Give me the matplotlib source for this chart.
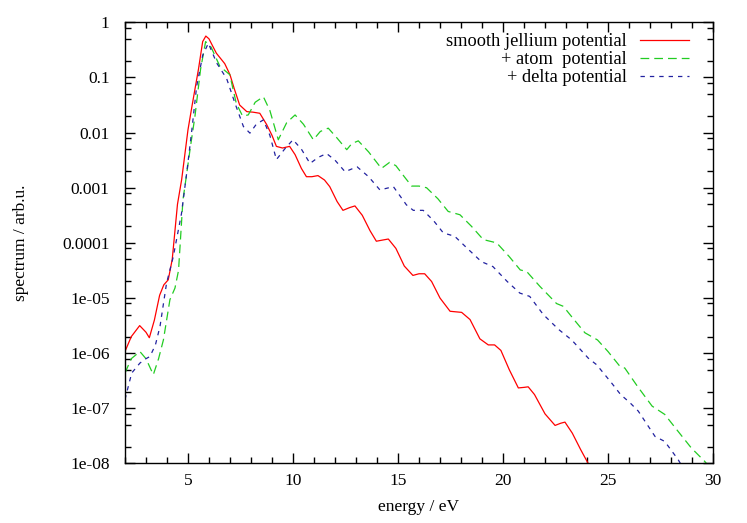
import matplotlib
matplotlib.use("Agg")
import matplotlib.pyplot as plt
import numpy as np
from matplotlib.ticker import FixedLocator, LogLocator, MultipleLocator, NullFormatter

# energy (eV) and log10(spectrum)
jellium_e = [2.0, 2.3, 2.7, 3.0, 3.16, 3.4, 3.65, 3.85, 4.06, 4.25, 4.5, 4.7, 5.0, 5.2, 5.5,
             5.7, 5.85, 6.0, 6.35, 6.75, 7.0, 7.2, 7.46, 7.8, 8.1, 8.42, 8.74, 9.0, 9.21, 9.5,
             9.84, 10.1, 10.4, 10.64, 10.9, 11.19, 11.5, 11.75, 12.1, 12.38, 12.7, 12.95, 13.3,
             13.67, 13.97, 14.25, 14.54, 14.9, 15.3, 15.71, 16.0, 16.27, 16.6, 17.0, 17.48,
             17.75, 18.03, 18.43, 18.9, 19.3, 19.6, 19.9, 20.3, 20.73, 21.0, 21.2, 21.5, 22.0,
             22.48, 22.75, 22.95, 23.3, 23.7, 24.0, 24.2]
jellium_log = [-5.97, -5.7, -5.5, -5.62, -5.72, -5.4, -4.95, -4.76, -4.67, -4.3, -3.3, -2.85,
               -1.95, -1.5, -0.85, -0.35, -0.25, -0.3, -0.56, -0.75, -0.95, -1.2, -1.5, -1.62,
               -1.63, -1.65, -1.85, -2.05, -2.25, -2.28, -2.25, -2.4, -2.65, -2.8, -2.8, -2.78,
               -2.86, -2.98, -3.25, -3.41, -3.36, -3.33, -3.5, -3.78, -3.97, -3.95, -3.93, -4.1,
               -4.42, -4.59, -4.56, -4.56, -4.7, -5.0, -5.24, -5.25, -5.26, -5.39, -5.74, -5.85,
               -5.85, -5.95, -6.3, -6.63, -6.62, -6.61, -6.75, -7.1, -7.31, -7.27, -7.25, -7.45,
               -7.75, -7.96, -8.1]

atom_e = [2.0, 2.3, 2.71, 3.0, 3.35, 3.6, 3.83, 4.14, 4.38, 4.55, 4.76, 4.92, 5.1, 5.33, 5.6,
          5.84, 6.1, 6.52, 6.99, 7.3, 7.6, 7.87, 8.2, 8.59, 8.9, 9.3, 9.7, 10.1, 10.5, 10.97,
          11.3, 11.68, 12.1, 12.56, 12.8, 13.11, 13.6, 14.21, 14.6, 14.9, 15.3, 15.65, 16.0,
          16.36, 16.9, 17.39, 17.95, 18.5, 19.06, 19.7, 20.3, 20.82, 21.13, 21.76, 22.55, 22.87,
          23.4, 23.9, 24.5, 25.0, 25.57, 25.8, 26.4, 27.1, 27.7, 28.3, 28.97, 29.6, 29.8]
atom_log = [-6.36, -6.1, -5.97, -6.1, -6.39, -6.1, -5.76, -5.03, -4.82, -4.5, -3.22, -2.8,
            -2.3, -1.71, -0.85, -0.35, -0.45, -0.8, -0.95, -1.47, -1.7, -1.68, -1.45, -1.35,
            -1.6, -2.13, -1.82, -1.68, -1.85, -2.13, -1.98, -1.92, -2.1, -2.31, -2.2, -2.15,
            -2.35, -2.65, -2.54, -2.6, -2.8, -2.97, -2.97, -3.0, -3.2, -3.43, -3.49, -3.7,
            -3.94, -4.0, -4.25, -4.49, -4.52, -4.79, -5.1, -5.15, -5.4, -5.63, -5.76, -5.97,
            -6.24, -6.27, -6.6, -6.96, -7.11, -7.4, -7.72, -7.96, -8.05]

delta_e = [2.0, 2.32, 2.71, 3.0, 3.19, 3.45, 3.67, 3.98, 4.3, 4.69, 4.95, 5.2, 5.41, 5.7, 5.97,
           6.37, 6.84, 7.24, 7.64, 7.95, 8.25, 8.59, 8.9, 9.21, 9.6, 10.0, 10.4, 10.81, 11.2,
           11.6, 12.0, 12.48, 13.05, 13.6, 14.14, 14.78, 15.4, 15.73, 16.2, 16.7, 17.16, 17.7,
           18.3, 18.97, 19.52, 20.2, 20.8, 21.27, 21.92, 22.65, 23.27, 24.06, 24.46, 25.17,
           25.6, 26.05, 26.44, 27.24, 27.7, 28.34, 28.6]
delta_log = [-6.84, -6.36, -6.18, -6.1, -6.06, -5.85, -5.51, -4.73, -4.25, -3.47, -2.7, -1.9,
             -1.17, -0.6, -0.38, -0.74, -1.02, -1.47, -1.89, -2.01, -1.85, -1.77, -2.05, -2.49,
             -2.3, -2.13, -2.3, -2.56, -2.45, -2.38, -2.5, -2.71, -2.62, -2.8, -3.04, -2.98,
             -3.31, -3.41, -3.41, -3.6, -3.82, -3.88, -4.1, -4.34, -4.43, -4.7, -4.91, -4.97,
             -5.3, -5.57, -5.76, -6.09, -6.21, -6.54, -6.75, -6.9, -7.05, -7.51, -7.6, -7.93, -8.1]

y_ticks = [1, 0.1, 0.01, 0.001, 0.0001, 1e-5, 1e-6, 1e-7, 1e-8]
y_labels = ["1", "0.1", "0.01", "0.001", "0.0001", "1e-05", "1e-06", "1e-07", "1e-08"]

plt.rcParams['font.family'] = ['Liberation Serif', 'DejaVu Serif']
plt.rcParams['font.size'] = 12.5

fig = plt.figure(figsize=(7.47, 5.23), dpi=100)
ax = fig.add_axes([0.1673, 0.1138, 0.7872, 0.8436])

ax.plot(jellium_e, 10 ** np.array(jellium_log), color='#ff0000', lw=0.9,
        label='smooth jellium potential')
ax.plot(atom_e, 10 ** np.array(atom_log), color='#22cc22', lw=0.9, dashes=(7, 4),
        label='+ atom  potential')
ax.plot(delta_e, 10 ** np.array(delta_log), color='#2222a0', lw=0.9, dashes=(3.5, 4),
        label='+ delta potential')

ax.set_yscale('log')
ax.set_xlim(2, 30)
ax.set_ylim(1e-8, 1)
ax.yaxis.set_major_locator(FixedLocator(y_ticks))
ax.set_yticklabels(y_labels)
ax.yaxis.set_minor_locator(LogLocator(base=10, subs=(2, 5, 8), numticks=20))
ax.yaxis.set_minor_formatter(NullFormatter())
ax.xaxis.set_major_locator(MultipleLocator(5))
ax.xaxis.set_minor_locator(MultipleLocator(1))

ax.tick_params(which='both', direction='in', top=True, right=True, labelsize=12.5)
ax.tick_params(axis='y', which='both', pad=11)
ax.tick_params(axis='x', which='both', pad=7)
ax.tick_params(which='major', length=7, width=1)
ax.tick_params(which='minor', length=4, width=1)
for s in ax.spines.values():
    s.set_linewidth(1)

ax.set_xlabel('energy / eV', labelpad=7)
ax.set_ylabel('spectrum / arb.u.', labelpad=24)

ax.legend(loc='upper right', frameon=False, markerfirst=False, handlelength=2.7,
          borderaxespad=0.2, labelspacing=0.06, handletextpad=0.7,
          bbox_to_anchor=(0.978, 1.0), fontsize=13.2)

fig.savefig('out.png', dpi=100)
